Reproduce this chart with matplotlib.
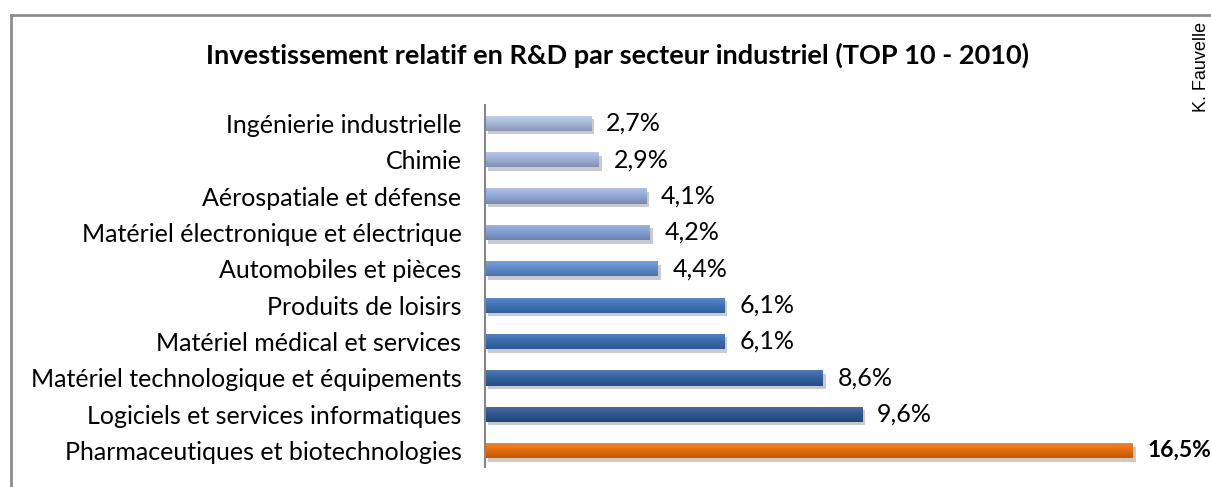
"""Investissement relatif en R&D par secteur industriel (TOP 10 - 2010)."""
import matplotlib.pyplot as plt
import numpy as np
from matplotlib import patheffects
from matplotlib.colors import LinearSegmentedColormap, to_rgb

# data, top to bottom as drawn
secteurs = [
    "Ingénierie industrielle",
    "Chimie",
    "Aérospatiale et défense",
    "Matériel électronique et électrique",
    "Automobiles et pièces",
    "Produits de loisirs",
    "Matériel médical et services",
    "Matériel technologique et équipements",
    "Logiciels et services informatiques",
    "Pharmaceutiques et biotechnologies",
]
valeurs = [2.7, 2.9, 4.1, 4.2, 4.4, 6.1, 6.1, 8.6, 9.6, 16.5]
etiquettes = ["2,7%", "2,9%", "4,1%", "4,2%", "4,4%", "6,1%", "6,1%", "8,6%", "9,6%", "16,5%"]

couleurs = [
    "#a9b8d8", "#9eb0d6", "#91a7d4", "#829dd2", "#5f8bca",
    "#3f73b6", "#3a6cad", "#33609e", "#2d578e", "#e46c0a",
]

FONT = ["Lato", "DejaVu Sans"]
plt.rcParams["font.family"] = FONT

fig = plt.figure(figsize=(12.11, 4.87), dpi=100)
ax = fig.add_axes([0.4005, 0.041, 0.5675, 0.743])

y = np.arange(len(secteurs))
bars = ax.barh(
    y, valeurs, height=0.42, color=couleurs, linewidth=0,
    path_effects=[
        patheffects.SimplePatchShadow(offset=(2, -2.5), shadow_rgbFace="#8a8a8a", alpha=0.45),
        patheffects.Normal(),
    ],
)

# vertical gradient on each bar (lighter on top, darker at the bottom)
grad = np.linspace(0, 1, 64).reshape(-1, 1)
for bar, c in zip(bars, couleurs):
    r, g, b = to_rgb(c)
    light = tuple(min(1, v + 0.10) for v in (r, g, b))
    dark = tuple(v * 0.82 for v in (r, g, b))
    cmap = LinearSegmentedColormap.from_list("g", [light, (r, g, b), dark])
    x0, y0 = bar.get_x(), bar.get_y()
    w, h = bar.get_width(), bar.get_height()
    im = ax.imshow(grad, cmap=cmap, aspect="auto", extent=(x0, x0 + w, y0 + h, y0),
                   zorder=bar.get_zorder() + 0.1, interpolation="bilinear")
    im.set_clip_path(bar)

for i, (v, t) in enumerate(zip(valeurs, etiquettes)):
    last = i == len(valeurs) - 1
    ax.text(v + 0.38, i, t, va="center", ha="left", fontsize=16.5 if last else 18,
            fontweight="bold" if last else "normal", color="black")

ax.set_xlim(0, 17.5)
ax.set_ylim(9.45, -0.5)
ax.set_yticks(y)
ax.set_yticklabels(secteurs, fontsize=18)
ax.tick_params(axis="y", length=0, pad=17)
ax.set_xticks([])
for s in ("top", "right", "bottom"):
    ax.spines[s].set_visible(False)
ax.spines["left"].set_color("#868686")
ax.spines["left"].set_linewidth(1.5)
ax.set_facecolor("none")

fig.text(0.5095, 0.887, "Investissement relatif en R&D par secteur industriel (TOP 10 - 2010)",
         ha="center", va="center", fontsize=19.5, fontweight="bold")
fig.text(1201 / 1211, 1 - 22 / 487, "K. Fauvelle", rotation=90, ha="center", va="top",
         fontsize=13, family=["Liberation Sans", "DejaVu Sans"])

# chart border (top and left edges visible)
fig.add_artist(plt.Line2D([11 / 1211, 1.0], [1 - 15 / 487, 1 - 15 / 487],
                          transform=fig.transFigure, color="#8c8c8c", lw=2))
fig.add_artist(plt.Line2D([11 / 1211, 11 / 1211], [0, 1 - 15 / 487],
                          transform=fig.transFigure, color="#8c8c8c", lw=2))

fig.savefig("out.png", dpi=100)
